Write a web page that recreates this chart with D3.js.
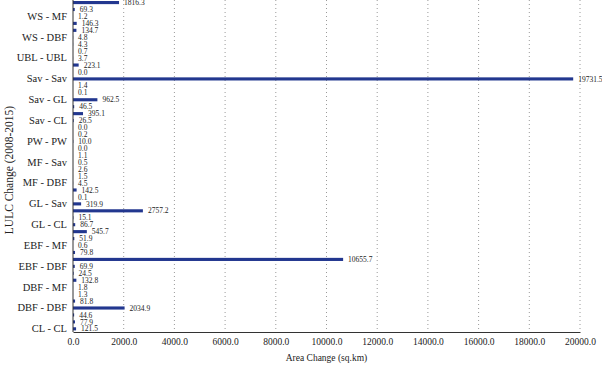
<!DOCTYPE html>
<html>
<head>
<meta charset="utf-8">
<script src="https://cdn.jsdelivr.net/npm/d3@7"></script>
<style>
  html, body { margin: 0; padding: 0; background: #fff; }
  svg { display: block; }
  text { font-family: "Liberation Serif", "Times New Roman", serif; fill: #222; }
</style>
</head>
<body>
<script>
// Categories, bottom to top
const categories = [
  "CL - CL", "CL - GL", "CL - Sav", "DBF - DBF", "DBF - EBF", "DBF - GL",
  "DBF - MF", "DBF - Sav", "EBF - CL", "EBF - DBF", "EBF - EBF", "EBF - GL",
  "EBF - MF", "EBF - Sav", "EBF - PW", "GL - CL", "GL - DBF", "GL - GL",
  "GL - Sav", "GL - UBL", "MF - CL", "MF - DBF", "MF - GL", "MF - MF",
  "MF - Sav", "PW - CL", "PW - GL", "PW - PW", "PW - Sav", "PW - WS",
  "Sav - CL", "Sav - DBF", "Sav - EBF", "Sav - GL", "Sav - MF", "Sav - PW",
  "Sav - Sav", "Sav - UBL", "Sav - WS", "UBL - UBL", "UBL - WS", "WS - CL",
  "WS - DBF", "WS - EBF", "WS - GL", "WS - MF", "WS - Sav", "WS - WS"
];
const values = [
  121.5, 77.9, 44.6, 2034.9, 81.8, 1.3,
  1.8, 132.8, 24.5, 69.9, 10655.7, 79.8,
  0.6, 51.9, 545.7, 86.7, 15.1, 2757.2,
  319.9, 0.1, 142.5, 4.5, 1.5, 2.6,
  0.5, 1.1, 0.0, 10.0, 0.2, 0.0,
  26.5, 395.1, 46.5, 962.5, 0.1, 1.4,
  19731.5, 0.0, 223.1, 3.7, 0.7, 4.3,
  4.8, 134.7, 146.3, 1.2, 69.3, 1816.3
];
const shownLabels = [
  "CL - CL", "DBF - DBF", "DBF - MF", "EBF - DBF", "EBF - MF", "GL - CL",
  "GL - Sav", "MF - DBF", "MF - Sav", "PW - PW", "Sav - CL", "Sav - GL",
  "Sav - Sav", "UBL - UBL", "WS - DBF", "WS - MF"
];
const xTicks = [0, 2000, 4000, 6000, 8000, 10000, 12000, 14000, 16000, 18000, 20000];
const xTitle = "Area Change (sq.km)";
const yTitle = "LULC Change (2008-2015)";

const W = 602, H = 366;
const axisY = 332;
const x0 = 73, x1 = 580;

const svg = d3.select("body").append("svg").attr("width", W).attr("height", H);

const x = d3.scaleLinear().domain([0, 20000]).range([x0, x1]);
const y = d3.scaleBand().domain(categories).range([333, -1.6])
  .paddingInner(0.55).paddingOuter(0.375);

// grid
svg.append("g").selectAll("line").data(xTicks.slice(1)).join("line")
  .attr("x1", d => x(d)).attr("x2", d => x(d))
  .attr("y1", 0).attr("y2", axisY)
  .attr("stroke", "#9a9a9a").attr("stroke-width", 1)
  .attr("stroke-dasharray", "1,3");

// bars
svg.append("g").selectAll("rect").data(categories).join("rect")
  .attr("x", x(0))
  .attr("y", (d) => y(d))
  .attr("width", (d, i) => x(values[i]) - x(0))
  .attr("height", y.bandwidth())
  .attr("fill", "#22378f");

// value labels
svg.append("g").selectAll("text").data(categories).join("text")
  .attr("x", (d, i) => x(values[i]) + 5)
  .attr("y", d => y(d) + y.bandwidth() / 2)
  .attr("dy", "0.35em")
  .attr("font-size", 7.5)
  .attr("fill", "#333")
  .text((d, i) => values[i].toFixed(1));

// x axis
const xAxis = d3.axisBottom(x).tickValues(xTicks).tickFormat(d => d.toFixed(1)).tickSize(0).tickPadding(6);
const gx = svg.append("g").attr("transform", `translate(0,${axisY})`).call(xAxis);
gx.select(".domain").attr("stroke", "#333");
gx.selectAll("text").attr("font-size", 9.5).attr("font-family", "Liberation Serif").attr("fill", "#222");

// y axis
const yAxis = d3.axisLeft(y).tickValues(shownLabels).tickSize(0).tickPadding(6);
const gy = svg.append("g").attr("transform", `translate(${x0},0)`).call(yAxis);
gy.select(".domain").attr("stroke", "#333").attr("d", `M0,0V${axisY}`);
gy.selectAll("text").attr("font-size", 10.5).attr("font-family", "Liberation Serif").attr("fill", "#222");

// titles
svg.append("text").attr("x", (x0 + x1) / 2).attr("y", 361)
  .attr("text-anchor", "middle").attr("font-size", 9.5).text(xTitle);
svg.append("text").attr("transform", `translate(13,${170}) rotate(-90)`)
  .attr("text-anchor", "middle").attr("font-size", 11.5).text(yTitle);
</script>
</body>
</html>
